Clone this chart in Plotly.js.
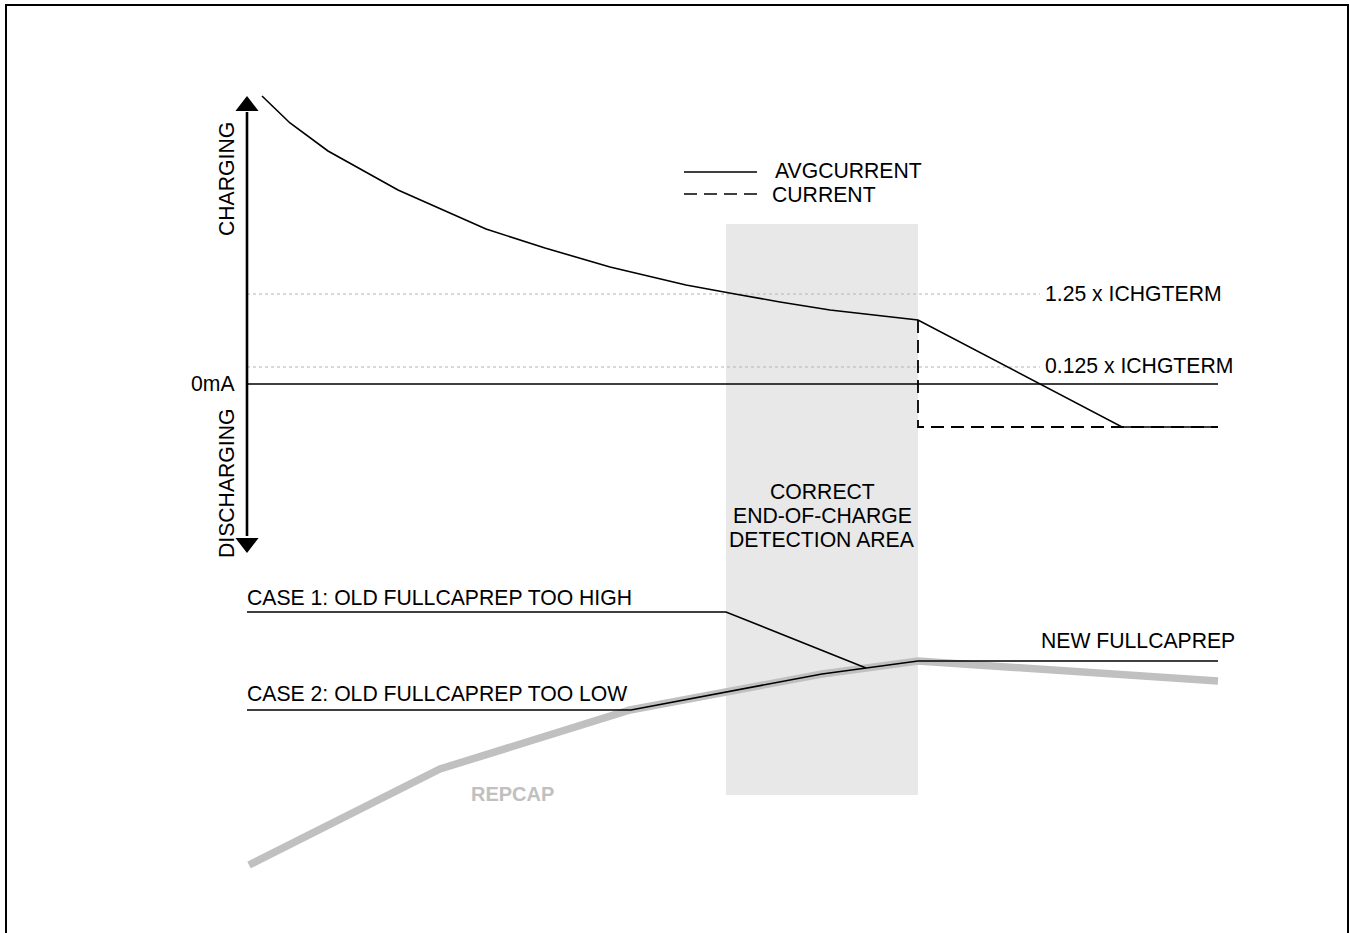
<!DOCTYPE html>
<html>
<head>
<meta charset="utf-8">
<script src="https://cdn.plot.ly/plotly-3.0.1.min.js"></script>
<style>
  html, body { margin: 0; padding: 0; background: #fff; }
  #chart { width: 1350px; height: 933px; }
</style>
</head>
<body>
<div id="chart"></div>
<script>
// ========== Diagram data (schematic units, y grows downward) ==========
// Upper panel: current vs time
const avgCurrentX = [262, 290, 328, 398, 486, 545, 610, 686, 735, 780, 830, 918, 1122, 1218];
const avgCurrentY = [96, 123, 151, 190, 229, 248, 267, 285, 294, 302, 310, 320, 427, 427];

const currentX = [918, 918, 1218];
const currentY = [320, 427, 427];

const zeroLineX = [247, 1218];
const zeroLineY = [384, 384];

const thresholdNames = ['1.25 x ICHGTERM', '0.125 x ICHGTERM'];
const thresholdY = [294, 367];
const thresholdX = [247, 1040];

// detection window (time span)
const detectWindowX = [726, 918];
const detectWindowY = [224, 795];
const detectLabel = ['CORRECT', 'END-OF-CHARGE', 'DETECTION AREA'];

// Lower panel: capacity vs time
const repCapX = [249, 440, 630, 822, 918, 1218];
const repCapY = [865, 769, 710, 674, 661, 681];

const case1X = [247, 726, 866];
const case1Y = [612, 612, 668];

const case2X = [247, 631, 822, 918];
const case2Y = [710, 710, 674, 661];

const newFullCapX = [918, 1218];
const newFullCapY = [661, 661];

// axis arrow
const axisArrowX = [247, 247];
const axisArrowY = [112, 536];

const FONT = 'Arial, "Liberation Sans", sans-serif';

// ========== Traces ==========
const traces = [];

// shaded detection area
traces.push({
  x: [detectWindowX[0], detectWindowX[1], detectWindowX[1], detectWindowX[0], detectWindowX[0]],
  y: [detectWindowY[0], detectWindowY[0], detectWindowY[1], detectWindowY[1], detectWindowY[0]],
  mode: 'lines', fill: 'toself', fillcolor: '#e8e8e8',
  line: { width: 0, color: 'rgba(0,0,0,0)' }, hoverinfo: 'skip'
});

// threshold dotted lines
thresholdY.forEach(y => {
  traces.push({
    x: thresholdX, y: [y, y], mode: 'lines',
    line: { color: '#b4b4b4', width: 1.2, dash: 'dot' }
  });
});

// zero current line
traces.push({ x: zeroLineX, y: zeroLineY, mode: 'lines', line: { color: '#000', width: 1.6 } });

// vertical axis with arrowheads
traces.push({ x: axisArrowX, y: axisArrowY, mode: 'lines', line: { color: '#000', width: 2.6 } });
traces.push({
  x: axisArrowX, y: [axisArrowY[0] - 6, axisArrowY[1] + 7], mode: 'markers',
  marker: { symbol: ['triangle-up', 'triangle-down'], size: 20, color: '#000' }
});

// current (dashed)
traces.push({ x: currentX, y: currentY, mode: 'lines', line: { color: '#000', width: 1.8, dash: '13px,7px' } });

// avg current
traces.push({ x: avgCurrentX, y: avgCurrentY, mode: 'lines', line: { color: '#000', width: 1.6 } });

// REPCAP thick gray
traces.push({ x: repCapX, y: repCapY, mode: 'lines', line: { color: '#c0c0c0', width: 7.5 } });

// case lines
traces.push({ x: case1X, y: case1Y, mode: 'lines', line: { color: '#000', width: 1.6 } });
traces.push({ x: case2X, y: case2Y, mode: 'lines', line: { color: '#000', width: 1.6 } });
traces.push({ x: newFullCapX, y: newFullCapY, mode: 'lines', line: { color: '#000', width: 1.6 } });

// legend samples
traces.push({ x: [684, 757], y: [172, 172], mode: 'lines', line: { color: '#000', width: 1.6 } });
traces.push({ x: [684, 757], y: [194, 194], mode: 'lines', line: { color: '#000', width: 1.6, dash: '13px,7px' } });

// ========== Annotations ==========
function label(x, y, text, opts = {}) {
  return Object.assign({
    x: x, y: y, xref: 'x', yref: 'y', text: text, showarrow: false,
    xanchor: 'left', yanchor: 'middle',
    font: { family: FONT, size: 21.2, color: '#000' }
  }, opts);
}

const annotations = [
  label(773, 170, 'AVGCURRENT'),
  label(770, 194, 'CURRENT'),
  label(1043, 293, thresholdNames[0]),
  label(1043, 365, thresholdNames[1]),
  label(237, 383, '0mA', { xanchor: 'right' }),
  label(226, 179, 'CHARGING', { xanchor: 'center', textangle: -90 }),
  label(226, 483, 'DISCHARGING', { xanchor: 'center', textangle: -90 }),
  label(245, 597, 'CASE 1: OLD FULLCAPREP TOO HIGH'),
  label(245, 693, 'CASE 2: OLD FULLCAPREP TOO LOW'),
  label(1237, 640, 'NEW FULLCAPREP', { xanchor: 'right' }),
  label(512, 794, '<b>REPCAP</b>', { xanchor: 'center', font: { family: FONT, size: 20, color: '#c0c0c0' } })
];
detectLabel.forEach((t, i) => {
  annotations.push(label(822, 491 + i * 24, t, { xanchor: 'center' }));
});

const layout = {
  width: 1350, height: 933,
  margin: { l: 0, r: 0, t: 0, b: 0 },
  paper_bgcolor: '#fff', plot_bgcolor: '#fff',
  showlegend: false,
  xaxis: { range: [0, 1350], visible: false, fixedrange: true },
  yaxis: { range: [933, 0], visible: false, fixedrange: true },
  annotations: annotations,
  shapes: [{
    type: 'rect', xref: 'x', yref: 'y', x0: 6, x1: 1348, y0: 5, y1: 945,
    line: { color: '#000', width: 2 }, fillcolor: 'rgba(0,0,0,0)', layer: 'above'
  }]
};

Plotly.newPlot('chart', traces, layout, { displayModeBar: false, staticPlot: true });
</script>
</body>
</html>
